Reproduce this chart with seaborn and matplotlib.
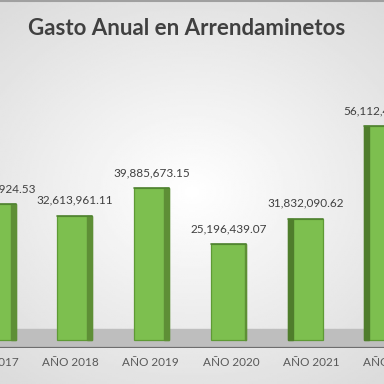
import numpy as np
import pandas as pd
import matplotlib
matplotlib.use("Agg")
import matplotlib.pyplot as plt
import matplotlib.transforms as mtransforms
import seaborn as sns
from matplotlib.patches import Polygon

years = ["AÑO 2017", "AÑO 2018", "AÑO 2019", "AÑO 2020", "AÑO 2021", "AÑO 2022"]
amounts = [35736924.53, 32613961.11, 39885673.15, 25196439.07, 31832090.62, 56112480.00]
title = "Gasto Anual en Arrendaminetos"

df = pd.DataFrame({"year": years, "amount": amounts})

sns.set_theme(style="white")
plt.rcParams["font.family"] = ["Lato", "DejaVu Sans"]

fig = plt.figure(figsize=(3.84, 3.84), dpi=100)

# soft gradient background
bg = fig.add_axes([0, 0, 1, 1], zorder=-2)
yy, xx = np.mgrid[-1:1:200j, -1:1:200j]
grad = 1 - 0.10 * np.clip(np.sqrt((xx * 0.9) ** 2 + (yy * 1.1) ** 2), 0, 1.4)
bg.imshow(grad, cmap="gray", vmin=0, vmax=1, aspect="auto", extent=[0, 1, 0, 1])
bg.axis("off")
bg.axhline(0.998, color="#A0A0A0", lw=1.5)

ax = fig.add_axes([0, 36 / 384, 1, 288 / 384])
ax.set_facecolor("none")

sns.barplot(data=df, x="year", y="amount", color="#7DBF4F", width=0.46,
            saturation=1, edgecolor="#5E9A35", linewidth=0.9, ax=ax, zorder=3)

ymin = -2.1e6
ax.set_ylim(ymin, 73.5e6)
ax.set_xlim(0.026, 5.026)

# floor band
ax.axhspan(ymin, ymin + 5.0e6, color="#BEBEBE", zorder=1)
ax.axhline(ymin, color="#6E6E6E", lw=1.6, zorder=2)

# darker side face on each bar for the 3d look
bars = ax.containers[0]
for i, p in enumerate(bars):
    x0, w, h = p.get_x(), p.get_width(), p.get_height()
    d = 0.065
    if i < 3:
        side = [(x0 + w - d, 0), (x0 + w - d, h), (x0 + w, h), (x0 + w, 0)]
        col = "#5E8F36"
    elif i == 3:
        side = [(x0 + w - 0.02, 0), (x0 + w - 0.02, h), (x0 + w, h), (x0 + w, 0)]
        col = "#5E8F36"
    else:
        side = [(x0, 0), (x0, h), (x0 + d, h), (x0 + d, 0)]
        col = "#4F7D2C"
    ax.add_patch(Polygon(side, closed=True, color=col, zorder=4))
    ax.plot([x0, x0 + w], [h, h], color="#4F8230", lw=1.2, zorder=5)

for i, v in enumerate(amounts):
    ax.text(i, v + 2.6e6, f"{v:,.2f}", ha="center", va="bottom",
            fontsize=8.5, color="#404040", zorder=6)

# category labels drawn as text so the clipped first one still shows
ax.set_xticks([])
trans = mtransforms.blended_transform_factory(ax.transData, fig.transFigure)
for i, lab in enumerate(years):
    ax.text(i - 0.1 + 0.045 * i, 22 / 384, lab, ha="center", va="center",
            fontsize=8.5, color="#595959", transform=trans, clip_on=False)

ax.set_xlabel("")
ax.set_ylabel("")
ax.set_yticks([])
for s in ax.spines.values():
    s.set_visible(False)

fig.text(0.485, 0.925, title, ha="center", va="center", fontsize=16,
         fontweight="bold", color="#404040")

fig.savefig("out.png", dpi=100)
